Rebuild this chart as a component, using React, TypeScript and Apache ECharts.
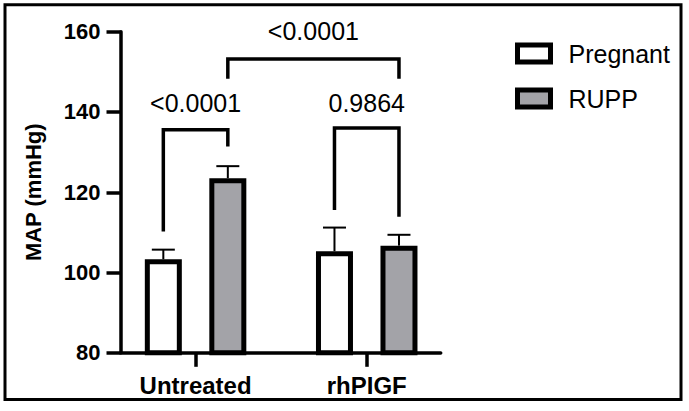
import React, { useEffect, useRef } from "react";
import * as echarts from "echarts";

// ---- data ----
const categories = ["Untreated", "rhPIGF"];
const seriesNames = ["Pregnant", "RUPP"];
const pregnantMean = [103.3, 105.3];
const pregnantSem = [2.4, 5.9];
const ruppMean = [123.5, 106.7];
const ruppSem = [3.0, 2.7];
const yMin = 80;
const yMax = 160;
const yInterval = 20;

// significance brackets: [categoryIndex, seriesIndex] for each leg
const bracketLeft = [[0, 0], [1, 0], [0, 1]];
const bracketRight = [[0, 1], [1, 1], [1, 1]];
const bracketTop = [135.6, 136.0, 153.2];
const bracketLeftEnd = [110.2, 115.6, 148.3];
const bracketRightEnd = [131.4, 113.9, 148.3];
const bracketLabelY = [142.2, 142.2, 160.2];
const bracketLabels = ["<0.0001", "0.9864", "<0.0001"];

// ---- style constants ----
const FONT = "Arial, 'Liberation Sans', Helvetica, sans-serif";
const BAR_WIDTH = 37;
const BAR_GAP_PX = 27.5;
const BAR_BORDER = 5;
const SERIES_OFFSET = (BAR_WIDTH + BAR_GAP_PX) / 2;
const CAP = 23;
const GRAY = "#a3a3a8";
const AXIS_W = 3.5;

const offsetFor = (s: number) => (s === 0 ? -SERIES_OFFSET : SERIES_OFFSET);

export default function App() {
  const ref = useRef<HTMLDivElement>(null);

  useEffect(() => {
    if (!ref.current) return;
    const chart = echarts.init(ref.current, undefined, { renderer: "svg" });

    const errorSeries = (means: number[], sems: number[], s: number) => ({
      type: "custom",
      xAxisIndex: 0,
      yAxisIndex: 0,
      z: 3,
      silent: true,
      data: means.map((m, i) => [i, m, sems[i]]),
      renderItem: (params: any, api: any) => {
        const cat = api.value(0);
        const mean = api.value(1);
        const sem = api.value(2);
        const base = api.coord([cat, mean]);
        const top = api.coord([cat, mean + sem]);
        const x = base[0] + offsetFor(s);
        return {
          type: "group",
          children: [
            {
              type: "line",
              shape: { x1: x, y1: base[1], x2: x, y2: top[1] },
              style: { stroke: "#000", lineWidth: 2 },
            },
            {
              type: "line",
              shape: { x1: x - CAP / 2, y1: top[1], x2: x + CAP / 2, y2: top[1] },
              style: { stroke: "#000", lineWidth: 2 },
            },
          ],
        };
      },
    });

    const option: any = {
      animation: false,
      backgroundColor: "#fff",
      graphic: [
        {
          type: "rect",
          shape: { x: 5, y: 4.7, width: 676, height: 394.8 },
          style: { fill: "none", stroke: "#000", lineWidth: 3 },
          silent: true,
        },
      ],
      legend: {
        data: seriesNames,
        orient: "vertical",
        left: 515,
        top: 41,
        padding: 0,
        itemGap: 20,
        itemWidth: 33,
        itemHeight: 17,
        icon: "rect",
        selectedMode: false,
        itemStyle: { borderWidth: BAR_BORDER, borderColor: "#000" },
        textStyle: {
          fontFamily: FONT,
          fontSize: 25,
          color: "#000",
          padding: [0, 0, 0, 13],
        },
      },
      grid: [
        { left: 110, top: 31.7, width: 342.3, height: 321.1 },
        { left: 120.5, top: 31.7, width: 320.2, height: 321.1 },
      ],
      xAxis: [
        {
          type: "category",
          gridIndex: 0,
          data: categories,
          axisLine: { show: false },
          axisTick: {
            show: true,
            alignWithLabel: true,
            length: 14,
            lineStyle: { color: "#000", width: AXIS_W },
          },
          axisLabel: {
            margin: 21,
            fontFamily: FONT,
            fontSize: 24,
            fontWeight: "bold",
            color: "#000",
          },
          splitLine: { show: false },
        },
        {
          type: "category",
          gridIndex: 1,
          data: [""],
          axisLine: { show: true, lineStyle: { color: "#000", width: AXIS_W } },
          axisTick: { show: false },
          axisLabel: { show: false },
          splitLine: { show: false },
        },
      ],
      yAxis: [
        {
          type: "value",
          gridIndex: 0,
          min: yMin,
          max: yMax,
          interval: yInterval,
          show: false,
        },
        {
          type: "value",
          gridIndex: 1,
          min: yMin,
          max: yMax,
          interval: yInterval,
          name: "MAP (mmHg)",
          nameLocation: "middle",
          nameGap: 76,
          nameTextStyle: {
            fontFamily: FONT,
            fontSize: 22,
            fontWeight: "bold",
            color: "#000",
          },
          axisLine: { show: true, lineStyle: { color: "#000", width: AXIS_W } },
          axisTick: {
            show: true,
            length: 14,
            lineStyle: { color: "#000", width: AXIS_W },
          },
          axisLabel: {
            margin: 20,
            fontFamily: FONT,
            fontSize: 22,
            fontWeight: "bold",
            color: "#000",
          },
          splitLine: { show: false },
        },
      ],
      series: [
        {
          name: seriesNames[0],
          type: "bar",
          xAxisIndex: 0,
          yAxisIndex: 0,
          barWidth: BAR_WIDTH,
          barGap: `${(BAR_GAP_PX / BAR_WIDTH) * 100}%`,
          data: pregnantMean,
          itemStyle: { color: "#fff", borderColor: "#000", borderWidth: BAR_BORDER },
        },
        {
          name: seriesNames[1],
          type: "bar",
          xAxisIndex: 0,
          yAxisIndex: 0,
          barWidth: BAR_WIDTH,
          barGap: `${(BAR_GAP_PX / BAR_WIDTH) * 100}%`,
          data: ruppMean,
          itemStyle: { color: GRAY, borderColor: "#000", borderWidth: BAR_BORDER },
        },
        errorSeries(pregnantMean, pregnantSem, 0),
        errorSeries(ruppMean, ruppSem, 1),
        {
          type: "custom",
          xAxisIndex: 0,
          yAxisIndex: 0,
          z: 4,
          silent: true,
          clip: false,
          data: bracketTop.map((t, i) => [bracketLeft[i][0], t]),
          renderItem: (params: any, api: any) => {
            const i = params.dataIndex;
            const [lc, ls] = bracketLeft[i];
            const [rc, rs] = bracketRight[i];
            const xl = api.coord([lc, bracketTop[i]])[0] + offsetFor(ls);
            const xr = api.coord([rc, bracketTop[i]])[0] + offsetFor(rs);
            const yTop = api.coord([lc, bracketTop[i]])[1];
            const yL = api.coord([lc, bracketLeftEnd[i]])[1];
            const yR = api.coord([rc, bracketRightEnd[i]])[1];
            const yLab = api.coord([lc, bracketLabelY[i]])[1];
            return {
              type: "group",
              children: [
                {
                  type: "polyline",
                  shape: {
                    points: [
                      [xl, yL],
                      [xl, yTop],
                      [xr, yTop],
                      [xr, yR],
                    ],
                  },
                  style: {
                    stroke: "#000",
                    lineWidth: 3.5,
                    fill: "none",
                    lineJoin: "miter",
                  },
                },
                {
                  type: "text",
                  x: (xl + xr) / 2,
                  y: yLab,
                  style: {
                    text: bracketLabels[i],
                    fontFamily: FONT,
                    fontSize: 25,
                    fill: "#000",
                    align: "center",
                    verticalAlign: "middle",
                  },
                },
              ],
            };
          },
        },
      ],
    };

    chart.setOption(option);
    return () => chart.dispose();
  }, []);

  return (
    <div
      ref={ref}
      style={{
        position: "fixed",
        left: 0,
        top: 0,
        width: 689,
        height: 411,
        background: "#fff",
      }}
    />
  );
}
